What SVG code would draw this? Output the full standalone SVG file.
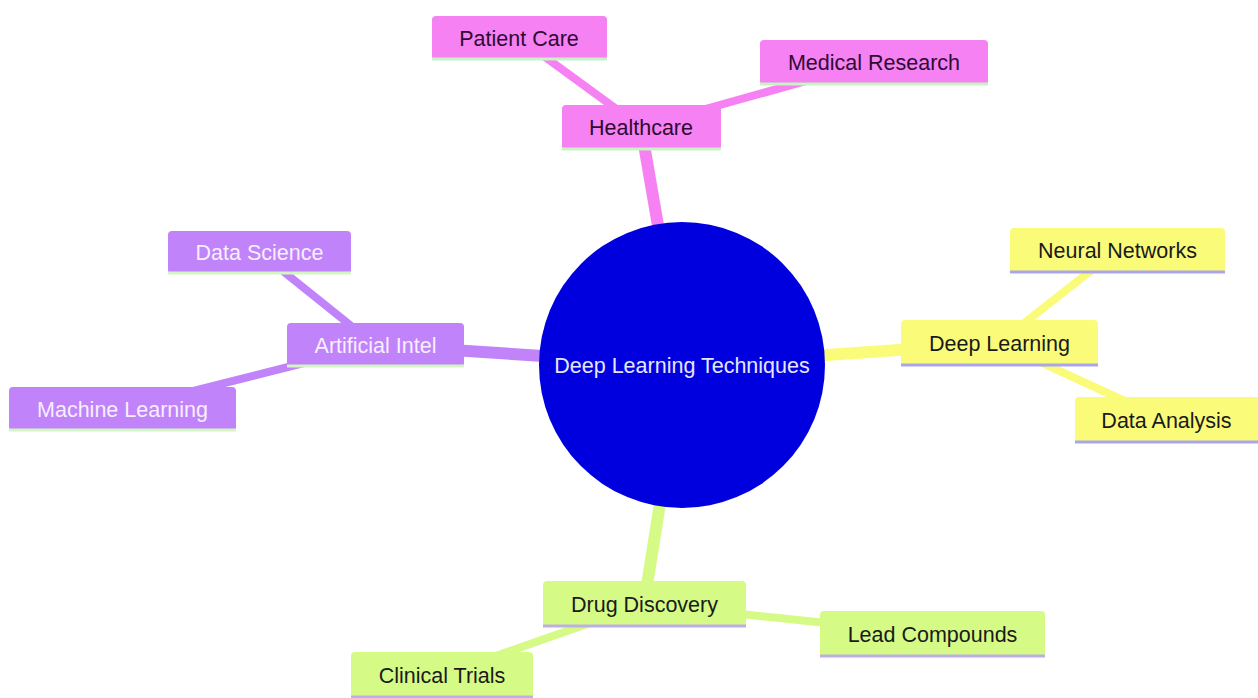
<svg xmlns="http://www.w3.org/2000/svg" width="1258" height="698" viewBox="0 0 1258 698">
<style>
text{font-family:"Liberation Sans",Arial,sans-serif;font-size:21.5px;text-anchor:middle}
.pk{fill:#f581f2}.pu{fill:#c183fa}.ye{fill:#fbfb7a}.gr{fill:#d5fb86}
.tpk{fill:#2f0a33}.tpu{fill:#f6efff}.tye{fill:#1a1a1a}.tgr{fill:#1a1a1a}
.lpk{stroke:#c8f3c2}.lpu{stroke:#d3f5c4}.lye{stroke:#a9a6ee}.lgr{stroke:#bfaee6}
.ln{stroke-width:3}
.e1{stroke-width:12;stroke-linecap:butt;fill:none}
.e2{stroke-width:8;stroke-linecap:butt;fill:none}
</style>
<rect width="1258" height="698" fill="#ffffff"/>
<g id="connectors">
<line class="e1" x1="641" y1="127" x2="682" y2="365" stroke="#f581f2"/>
<line class="e2" x1="519" y1="38" x2="641" y2="127" stroke="#f581f2"/>
<line class="e2" x1="874" y1="62" x2="641" y2="127" stroke="#f581f2"/>
<line class="e1" x1="375" y1="345" x2="682" y2="365" stroke="#c183fa"/>
<line class="e2" x1="259" y1="252" x2="375" y2="345" stroke="#c183fa"/>
<line class="e2" x1="122" y1="409" x2="375" y2="345" stroke="#c183fa"/>
<line class="e1" x1="999" y1="343" x2="682" y2="365" stroke="#fbfb7a"/>
<line class="e2" x1="1117" y1="250" x2="999" y2="343" stroke="#fbfb7a"/>
<line class="e2" x1="1166" y1="420" x2="999" y2="343" stroke="#fbfb7a"/>
<line class="e1" x1="644" y1="604" x2="682" y2="365" stroke="#d5fb86"/>
<line class="e2" x1="932" y1="634" x2="644" y2="604" stroke="#d5fb86"/>
<line class="e2" x1="442" y1="675" x2="644" y2="604" stroke="#d5fb86"/>
</g>
<g id="root">
<circle cx="682" cy="365" r="143" fill="#0000de"/>
<text x="682" y="372.5" fill="#e6e6ff">Deep Learning Techniques</text>
</g>
<g id="healthcare">
<rect class="pk" x="562" y="105" width="159" height="45" rx="4"/>
<line class="ln lpk" x1="562" y1="149" x2="721" y2="149"/>
<text class="tpk" x="641" y="135">Healthcare</text>
</g>
<g id="patient-care">
<rect class="pk" x="432" y="16" width="175" height="44" rx="4"/>
<line class="ln lpk" x1="432" y1="59" x2="607" y2="59"/>
<text class="tpk" x="519" y="45.5">Patient Care</text>
</g>
<g id="medical-research">
<rect class="pk" x="760" y="40" width="228" height="45" rx="4"/>
<line class="ln lpk" x1="760" y1="84" x2="988" y2="84"/>
<text class="tpk" x="874" y="70">Medical Research</text>
</g>
<g id="artificial-intel">
<rect class="pu" x="287" y="323" width="177" height="44" rx="4"/>
<line class="ln lpu" x1="287" y1="366" x2="464" y2="366"/>
<text class="tpu" x="375.5" y="352.5">Artificial Intel</text>
</g>
<g id="data-science">
<rect class="pu" x="168" y="231" width="183" height="43" rx="4"/>
<line class="ln lpu" x1="168" y1="273" x2="351" y2="273"/>
<text class="tpu" x="259.5" y="260">Data Science</text>
</g>
<g id="machine-learning">
<rect class="pu" x="9" y="387" width="227" height="44" rx="4"/>
<line class="ln lpu" x1="9" y1="430" x2="236" y2="430"/>
<text class="tpu" x="122.5" y="416.5">Machine Learning</text>
</g>
<g id="deep-learning">
<rect class="ye" x="901" y="320" width="197" height="46" rx="4"/>
<line class="ln lye" x1="901" y1="365" x2="1098" y2="365"/>
<text class="tye" x="999.5" y="350.5">Deep Learning</text>
</g>
<g id="neural-networks">
<rect class="ye" x="1010" y="228" width="215" height="45" rx="4"/>
<line class="ln lye" x1="1010" y1="272" x2="1225" y2="272"/>
<text class="tye" x="1117.5" y="258">Neural Networks</text>
</g>
<g id="data-analysis">
<rect class="ye" x="1075" y="397" width="190" height="46" rx="4"/>
<line class="ln lye" x1="1075" y1="442" x2="1258" y2="442"/>
<text class="tye" x="1166.5" y="427.5">Data Analysis</text>
</g>
<g id="drug-discovery">
<rect class="gr" x="543" y="581" width="203" height="46" rx="4"/>
<line class="ln lgr" x1="543" y1="626" x2="746" y2="626"/>
<text class="tgr" x="644.5" y="611.5">Drug Discovery</text>
</g>
<g id="lead-compounds">
<rect class="gr" x="820" y="611" width="225" height="46" rx="4"/>
<line class="ln lgr" x1="820" y1="656" x2="1045" y2="656"/>
<text class="tgr" x="932.5" y="641.5">Lead Compounds</text>
</g>
<g id="clinical-trials">
<rect class="gr" x="351" y="652" width="182" height="46" rx="4"/>
<line class="ln lgr" x1="351" y1="697" x2="533" y2="697"/>
<text class="tgr" x="442" y="682.5">Clinical Trials</text>
</g>
</svg>
